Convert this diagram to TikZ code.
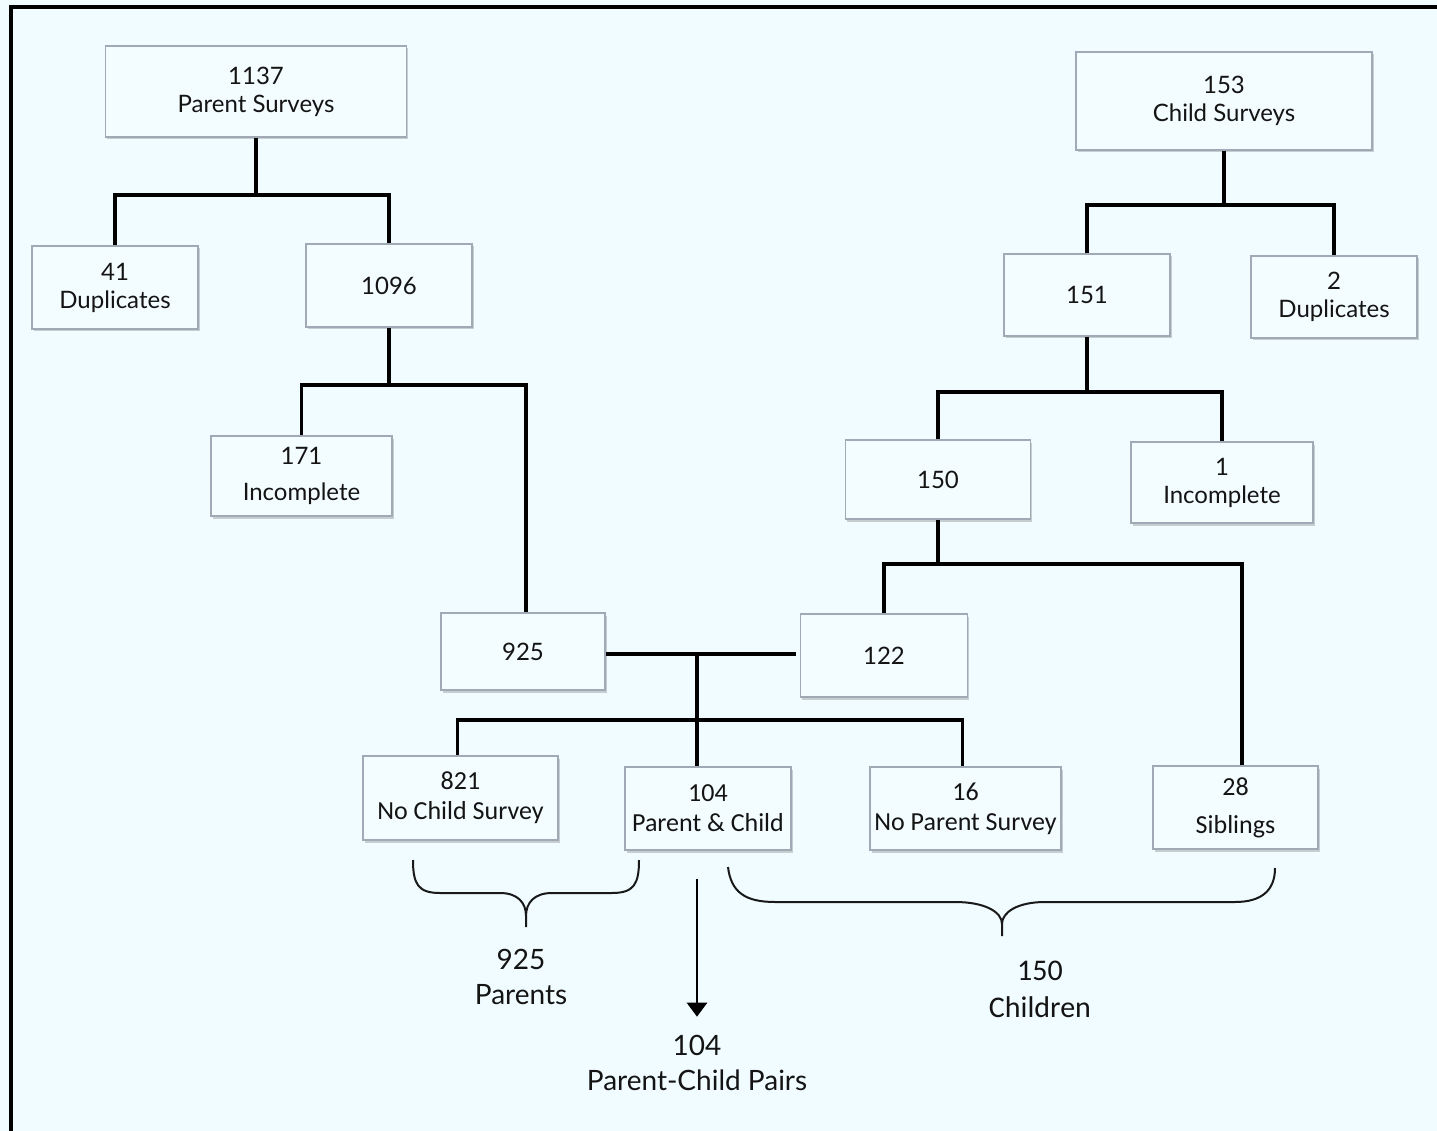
\documentclass[tikz,border=0pt]{standalone}
\usepackage{fontspec}
\setmainfont{Lato}
\newfontfamily\calfont{Carlito}
\usetikzlibrary{shadows,arrows.meta}
\definecolor{bg}{RGB}{240,252,255}
\definecolor{boxfill}{RGB}{243,252,255}
\definecolor{boxline}{RGB}{160,170,182}
\definecolor{ink}{RGB}{20,20,20}
\tikzset{
  box/.style={draw=boxline, fill=boxfill, line width=1.3pt, inner sep=2pt, align=center, text=ink,
    font=\fontsize{24}{28}\selectfont,
    drop shadow={shadow xshift=1.5pt, shadow yshift=-2.5pt, opacity=0.3, fill=black!60}},
  cbox/.style={box, font=\calfont\fontsize{26}{30}\selectfont},
  conn/.style={line width=3.2pt, draw=black},
  bracepath/.style={line width=2pt, draw=black!90},
  lbl/.style={align=center, text=ink, font=\fontsize{28}{35}\selectfont},
  clbl/.style={align=center, text=ink, font=\calfont\fontsize{30}{37}\selectfont}
}
\begin{document}
\begin{tikzpicture}[x=1pt,y=-1pt]
\fill[bg] (0,0) rectangle (1437,1131);
\useasboundingbox (0,0) rectangle (1437,1131);
\draw[line width=4.5pt] (11,1131) -- (11,7) -- (1437,7);

% parent side
\node[box, minimum width=301pt, minimum height=91pt] (p1137) at (256,91.5) {1137\\Parent Surveys};
\node[box, minimum width=166pt, minimum height=83pt] (dup41) at (115,287.5) {41\\Duplicates};
\node[box, minimum width=166pt, minimum height=83pt] (n1096) at (389,285.5) {1096};
\node[box, minimum width=181pt, minimum height=80pt] (n171) at (301.5,476) {171\\[8pt]Incomplete};
\node[box, minimum width=164pt, minimum height=77pt] (n925) at (523,651.5) {925};

% child side
\node[box, minimum width=296pt, minimum height=98pt] (c153) at (1224,101) {153\\Child Surveys};
\node[box, minimum width=166pt, minimum height=82pt] (n151) at (1087,295) {151};
\node[box, minimum width=166pt, minimum height=82pt] (dup2) at (1334,297) {2\\Duplicates};
\node[box, minimum width=185pt, minimum height=79pt] (n150) at (938,479.5) {150};
\node[box, minimum width=182pt, minimum height=81pt] (inc1) at (1222,482.5) {1\\Incomplete};
\node[box, minimum width=167pt, minimum height=83pt] (n122) at (884,655.5) {122};

% bottom row
\node[cbox, minimum width=195pt, minimum height=84pt] (n821) at (460.5,798) {821\\No Child Survey};
\node[cbox, minimum width=166pt, minimum height=83pt] (pc104) at (708,808.5) {104\\Parent \& Child};
\node[cbox, minimum width=191pt, minimum height=83pt] (n16) at (965.5,808.5) {16\\No Parent Survey};
\node[cbox, minimum width=165pt, minimum height=83pt] (sib28) at (1235.5,807.5) {28\\[8pt]Siblings};

% junctions
\coordinate (ja) at (256,195);
\coordinate (jb) at (389,385);
\coordinate (jc) at (1224,205);
\coordinate (jd) at (1087,392);
\coordinate (je) at (938,564);
\coordinate (jf) at (697,654);
\coordinate (jg) at (697,720);
\path (sib28.north) ++(6.5,0) coordinate (sibtop);
\path (pc104.north) ++(-11,0) coordinate (pctop);
\path (pc104.south) ++(-11,28) coordinate (arrs);

% connectors
\draw[conn] (p1137.south) -- (ja);
\draw[conn] (dup41.north) |- (ja) -| (n1096.north);
\draw[conn] (n1096.south) -- (jb);
\draw[conn] (n171.north) |- (jb) -| ([xshift=3pt]n925.north);
\draw[conn] (c153.south) -- (jc);
\draw[conn] (n151.north) |- (jc) -| (dup2.north);
\draw[conn] (n151.south) -- (jd);
\draw[conn] (n150.north) |- (jd) -| (inc1.north);
\draw[conn] (n150.south) -- (je);
\draw[conn] (n122.north) |- (je) -| (sibtop);
\draw[conn] (n925.east |- jf) -- ([xshift=-4pt]n122.west |- jf);
\draw[conn] (jf) -- (pctop);
\draw[conn] ([xshift=-3pt]n821.north) |- (jg) -| ([xshift=-3pt]n16.north);

% labels
\node[lbl] (parents) at (521,977) {925\\Parents};
\node[lbl] (pairs) at (697,1063) {104\\Parent-Child Pairs};
\node[clbl] (children) at (1040,989) {150\\Children};

\draw[line width=2.5pt, -{Triangle[width=20pt,length=14pt]}, shorten >=15pt] (arrs) -- (pairs.north);

% braces
\draw[bracepath] (413,860) .. controls (413,884) and (418,893) .. (440,893) -- (500,893)
  .. controls (518,893) and (526,903) .. (526,916) -- (526,927)
  (526,916) .. controls (526,903) and (534,893) .. (552,893) -- (612,893)
  .. controls (634,893) and (639,884) .. (639,860);
\draw[bracepath] (728,867) .. controls (731,892) and (745,902) .. (775,902) -- (955,902)
  .. controls (985,902) and (1002,912) .. (1002,924) -- (1002,936)
  (1002,924) .. controls (1002,912) and (1018,902) .. (1045,902) -- (1235,902)
  .. controls (1262,902) and (1275,890) .. (1275,868);
\end{tikzpicture}
\end{document}
